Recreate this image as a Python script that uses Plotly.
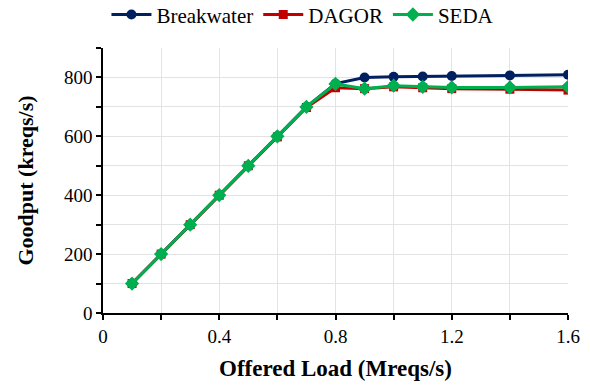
import plotly.graph_objects as go

offered_load = [0.1, 0.2, 0.3, 0.4, 0.5, 0.6, 0.7, 0.8, 0.9, 1.0, 1.1, 1.2, 1.4, 1.6]
breakwater = [100, 200, 300, 400, 500, 600, 700, 779, 800, 802, 803, 805, 807, 809]
dagor = [100, 200, 300, 400, 500, 598, 698, 765, 762, 768, 765, 762, 760, 757]
seda = [100, 200, 300, 400, 500, 600, 700, 778, 762, 772, 768, 766, 766, 768]

x_tickvals = [0, 0.2, 0.4, 0.6, 0.8, 1.0, 1.2, 1.4, 1.6]
x_ticktext = ["0", "", "0.4", "", "0.8", "", "1.2", "", "1.6"]
y_tickvals = [0, 100, 200, 300, 400, 500, 600, 700, 800, 900]
y_ticktext = ["0", "", "200", "", "400", "", "600", "", "800", ""]

series = [
    ("Breakwater", breakwater, "#002060", "circle", 10),
    ("DAGOR", dagor, "#C00000", "square", 9),
    ("SEDA", seda, "#00B050", "diamond", 11),
]

fig = go.Figure()
for name, vals, color, sym, size in series:
    fig.add_trace(go.Scatter(
        x=offered_load, y=vals, name=name, mode="lines+markers",
        line=dict(color=color, width=3),
        marker=dict(symbol=sym, size=size, color=color),
    ))

font = "Liberation Serif, Times New Roman, serif"
fig.update_layout(
    width=590, height=387,
    margin=dict(l=103, r=22, t=48, b=74, autoexpand=False),
    paper_bgcolor="white", plot_bgcolor="white",
    font=dict(family=font, size=19, color="black"),
    legend=dict(orientation="h", x=0.43, xanchor="center", y=1.125, yref="paper",
                yanchor="middle", font=dict(size=21), itemwidth=40,
                tracegroupgap=0, bgcolor="rgba(0,0,0,0)"),
    showlegend=True,
)
fig.update_xaxes(
    range=[0, 1.6], tickvals=x_tickvals, ticktext=x_ticktext,
    showline=True, linecolor="black", linewidth=1.5,
    ticks="outside", ticklen=5, tickcolor="black", tickwidth=1.5,
    showgrid=True, gridcolor="#e3e3e3", gridwidth=1, zeroline=False,
    title=dict(text="<b>Offered Load (Mreqs/s)</b>", font=dict(size=23), standoff=14),
    tickfont=dict(size=19),
)
fig.update_yaxes(
    range=[0, 900], tickvals=y_tickvals, ticktext=y_ticktext,
    showline=True, linecolor="black", linewidth=1.5,
    ticks="outside", ticklen=5, tickcolor="black", tickwidth=1.5,
    showgrid=True, gridcolor="#e3e3e3", gridwidth=1, zeroline=False,
    title=dict(text="<b>Goodput (kreqs/s)</b>", font=dict(size=22), standoff=24),
    tickfont=dict(size=19),
)

fig.write_html("out.html")
